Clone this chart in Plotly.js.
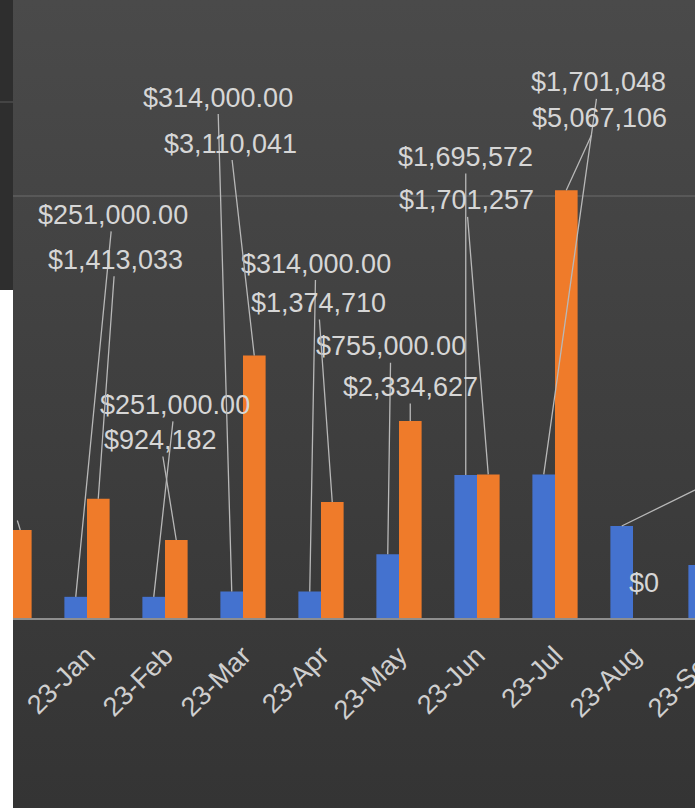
<!DOCTYPE html>
<html>
<head>
<meta charset="utf-8">
<script src="https://cdn.plot.ly/plotly-3.0.1.min.js"></script>
<style>
  html, body { margin: 0; padding: 0; }
  body { width: 695px; height: 808px; overflow: hidden;
         background: linear-gradient(180deg, #4a4a4a 0%, #404040 45%, #343434 100%); }
  #chart { width: 760px; height: 808px; }
</style>
</head>
<body>
<div id="chart"></div>
<script>
// ---- data ----
const categories = ['22-Dec','23-Jan','23-Feb','23-Mar','23-Apr','23-May','23-Jun','23-Jul','23-Aug','23-Sep'];
const seriesA = [null, 251000, 251000, 314000, 314000, 755000, 1695572, 1701048, 1090000, 627000];
const seriesB = [1042000, 1413033, 924182, 3110041, 1374710, 2334627, 1701257, 5067106, 0, null];
const labelsA = [' ', '$251,000.00', '$251,000.00', '$314,000.00', '$314,000.00', '$755,000.00', '$1,695,572', '$1,701,048', ' ', null];
const labelsB = [' ', '$1,413,033', '$924,182', '$3,110,041', '$1,374,710', '$2,334,627', '$1,701,257', '$5,067,106', '$0', null];
const tickLabels = categories.slice(1);

// label placement (pixel offsets of label from bar top)
const offA = [null, [37,-382], [21,-192], [-14,-494], [6,-328], [3,-208], [0,-318], [55,-392], [110,-54], null];
const offB = [[-8,-26], [17,-239], [-16,-100], [-24,-212], [-14,-199], [0,-34], [-22,-274], [33,-72], [0,-35], null];

const blue = '#4472cf';
const orange = '#ef7b2a';
const textColor = '#d6d6d6';
const lineColor = '#b8b8b8';
const font = 'Liberation Sans, Arial, sans-serif';

const traces = [
  { type: 'bar', x: categories, y: seriesA, marker: { color: blue }, name: 'A' },
  { type: 'bar', x: categories, y: seriesB, marker: { color: orange }, name: 'B' }
];

const annotations = [];
function addLabels(values, labels, offs, shift) {
  values.forEach((v, i) => {
    if (v === null || labels[i] === null || offs[i] === null) return;
    const isZero = v === 0;
    const a = {
      x: categories[i], y: v, xref: 'x', yref: 'y',
      text: labels[i], xshift: shift,
      font: { family: font, size: 27, color: textColor },
      showarrow: !isZero, arrowhead: 0, arrowwidth: 1.3, arrowcolor: lineColor,
      ax: offs[i][0], ay: offs[i][1], standoff: 0, startstandoff: 0
    };
    if (isZero) { a.yshift = -offs[i][1]; a.xshift = shift + offs[i][0]; }
    annotations.push(a);
  });
}
addLabels(seriesA, labelsA, offA, -11.25);
addLabels(seriesB, labelsB, offB, 11.25);

const W = 760, H = 808, plotH = 618, catPx = 78, firstPx = 9;
const layout = {
  width: W, height: H,
  margin: { l: 0, r: 0, t: 0, b: H - plotH, pad: 0 },
  paper_bgcolor: 'rgba(0,0,0,0)', plot_bgcolor: 'rgba(0,0,0,0)',
  barmode: 'group', bargap: 0.42, bargroupgap: 0,
  showlegend: false,
  xaxis: {
    type: 'category', range: [-firstPx / catPx, (W - firstPx) / catPx],
    tickmode: 'array', tickvals: tickLabels, ticktext: tickLabels,
    showgrid: false, showline: true, linecolor: '#8e8e8e', linewidth: 2,
    ticks: 'outside', ticklen: 9, tickcolor: 'rgba(0,0,0,0)',
    tickangle: -45, tickfont: { family: font, size: 27, color: '#cfcfcf' },
    fixedrange: true
  },
  yaxis: {
    range: [0, plotH / 422 * 5000000], dtick: 5000000, tick0: 0,
    showgrid: true, gridcolor: '#585858', gridwidth: 1.3,
    zeroline: false, showticklabels: false, showline: false, fixedrange: true
  },
  annotations: annotations,
  shapes: [
    { type: 'rect', xref: 'paper', yref: 'paper', x0: 0, x1: 13/W, y0: (plotH-290)/plotH, y1: 1,
      fillcolor: '#2e2e2e', line: { width: 0 }, layer: 'above' },
    { type: 'line', xref: 'paper', yref: 'paper', x0: 0, x1: 13/W, y0: (plotH-102)/plotH, y1: (plotH-102)/plotH,
      line: { color: '#4c4c4c', width: 1.5 }, layer: 'above' },
    { type: 'rect', xref: 'paper', yref: 'paper', x0: 0, x1: 13/W, y0: (plotH-812)/plotH, y1: (plotH-290)/plotH,
      fillcolor: '#ffffff', line: { width: 0 }, layer: 'above' }
  ]
};

Plotly.newPlot('chart', traces, layout, { staticPlot: true, displayModeBar: false });
</script>
</body>
</html>
